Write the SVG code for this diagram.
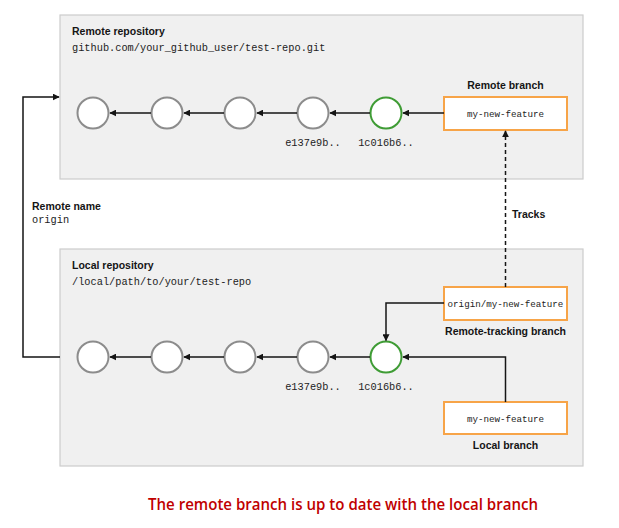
<svg xmlns="http://www.w3.org/2000/svg" width="619" height="528" viewBox="0 0 619 528">
<style>
.repo{fill:#f0f0f0;stroke:#cccccc;stroke-width:1.2}
.c{fill:#fff;stroke:#8c8c8c;stroke-width:2}
.g{fill:#fff;stroke:#3f9c35;stroke-width:2}
.br{fill:#fff;stroke:#f7a448;stroke-width:2}
.b{font-family:"Liberation Sans",Arial,sans-serif;font-weight:bold;font-size:10.5px;fill:#151515}
.m{font-family:"Liberation Mono","DejaVu Sans Mono",monospace;font-size:10.3px;fill:#222}
.mb{font-family:"Liberation Mono","DejaVu Sans Mono",monospace;font-size:9.2px;fill:#222}
.ln{fill:none;stroke:#151515;stroke-width:1.5}
.title{font-family:"Open Sans","Liberation Sans",sans-serif;font-size:15.5px;font-weight:600;fill:#c00000}
</style>
<defs>
<marker id="ah" viewBox="0 0 10 10" refX="9" refY="5" markerWidth="7" markerHeight="7" orient="auto-start-reverse" markerUnits="userSpaceOnUse">
<path d="M0,0L10,5L0,10z" fill="#151515"/>
</marker>
</defs>
<g id="remote-repo">
<rect class="repo" x="60" y="15" width="523" height="164"/>
<text class="b" x="72" y="35">Remote repository</text>
<text class="m" x="72" y="51">github.com/your_github_user/test-repo.git</text>
</g>
<g id="local-repo">
<rect class="repo" x="60" y="249" width="523" height="217"/>
<text class="b" x="72" y="269">Local repository</text>
<text class="m" x="72" y="285">/local/path/to/your/test-repo</text>
</g>
<g id="remote-commits">
<circle class="c" cx="93" cy="113" r="15.5"/>
<circle class="c" cx="167" cy="113" r="15.5"/>
<circle class="c" cx="240" cy="113" r="15.5"/>
<circle class="c" cx="313" cy="113" r="15.5"/>
<circle class="g" cx="386" cy="113" r="15.5"/>
<text class="m" x="313" y="146" text-anchor="middle">e137e9b..</text>
<text class="m" x="386" y="146" text-anchor="middle">1c016b6..</text>
</g>
<g id="remote-branch">
<rect class="br" x="444" y="97" width="123" height="33"/>
<text class="mb" x="505.5" y="116.5" text-anchor="middle">my-new-feature</text>
<text class="b" x="505.5" y="89" text-anchor="middle">Remote branch</text>
</g>
<g id="local-commits">
<circle class="c" cx="93" cy="357" r="15.5"/>
<circle class="c" cx="167" cy="357" r="15.5"/>
<circle class="c" cx="240" cy="357" r="15.5"/>
<circle class="c" cx="313" cy="357" r="15.5"/>
<circle class="g" cx="386" cy="357" r="15.5"/>
<text class="m" x="313" y="390" text-anchor="middle">e137e9b..</text>
<text class="m" x="386" y="390" text-anchor="middle">1c016b6..</text>
</g>
<g id="remote-tracking-branch">
<rect class="br" x="444" y="287" width="123" height="33"/>
<text class="mb" x="505.5" y="306.5" text-anchor="middle">origin/my-new-feature</text>
<text class="b" x="505.5" y="335" text-anchor="middle">Remote-tracking branch</text>
</g>
<g id="local-branch">
<rect class="br" x="444" y="402" width="123" height="32"/>
<text class="mb" x="505.5" y="421.5" text-anchor="middle">my-new-feature</text>
<text class="b" x="505.5" y="449" text-anchor="middle">Local branch</text>
</g>
<g id="remote-name">
<text class="b" x="32" y="210">Remote name</text>
<text class="m" x="32" y="223">origin</text>
</g>
<g id="connectors">
<line class="ln" x1="151" y1="113" x2="110" y2="113" marker-end="url(#ah)"/>
<line class="ln" x1="224" y1="113" x2="184" y2="113" marker-end="url(#ah)"/>
<line class="ln" x1="297" y1="113" x2="257" y2="113" marker-end="url(#ah)"/>
<line class="ln" x1="370" y1="113" x2="330" y2="113" marker-end="url(#ah)"/>
<line class="ln" x1="444" y1="113" x2="403" y2="113" marker-end="url(#ah)"/>
<line class="ln" x1="151" y1="357" x2="110" y2="357" marker-end="url(#ah)"/>
<line class="ln" x1="224" y1="357" x2="184" y2="357" marker-end="url(#ah)"/>
<line class="ln" x1="297" y1="357" x2="257" y2="357" marker-end="url(#ah)"/>
<line class="ln" x1="370" y1="357" x2="330" y2="357" marker-end="url(#ah)"/>
<path class="ln" d="M444,303H386V340.5" marker-end="url(#ah)"/>
<path class="ln" d="M505.5,402V357H403" marker-end="url(#ah)"/>
<path class="ln" d="M505.5,287V131" stroke-dasharray="4,3" marker-end="url(#ah)"/>
<path class="ln" d="M60,357H23V97H59" marker-end="url(#ah)"/>
<text class="b" x="512" y="218">Tracks</text>
</g>
<text class="title" x="343" y="510" text-anchor="middle" textLength="390" lengthAdjust="spacingAndGlyphs">The remote branch is up to date with the local branch</text>
</svg>
